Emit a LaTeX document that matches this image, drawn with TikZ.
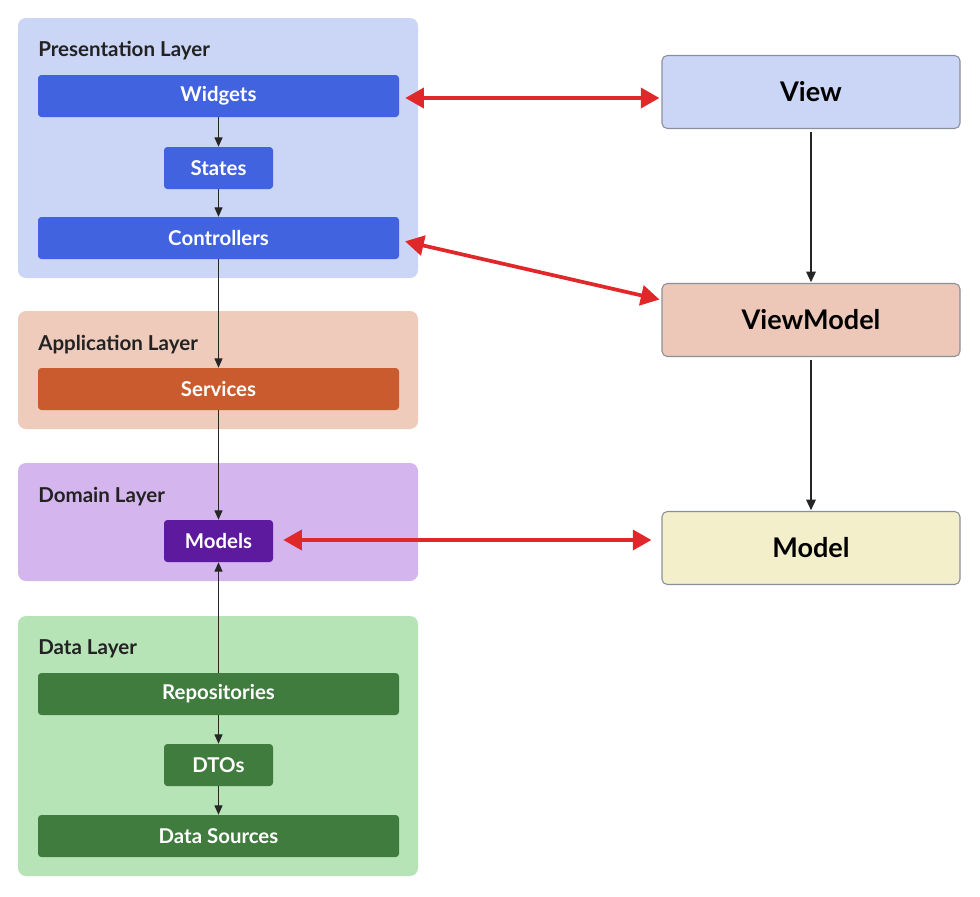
\documentclass[tikz,border=0pt]{standalone}
\usepackage{fontspec}
\setmainfont{Lato}
\usetikzlibrary{arrows.meta,calc}
\definecolor{presbg}{HTML}{CBD5F5}
\definecolor{presfg}{HTML}{4163DF}
\definecolor{appbg}{HTML}{EECBBB}
\definecolor{appfg}{HTML}{C95B2F}
\definecolor{dombg}{HTML}{D4B5EE}
\definecolor{domfg}{HTML}{5E1A9E}
\definecolor{databg}{HTML}{B7E4B6}
\definecolor{datafg}{HTML}{417C3F}
\definecolor{vmbg}{HTML}{EDC8B8}
\definecolor{modelbg}{HTML}{F3EFCB}
\definecolor{redarr}{HTML}{E0282A}
\definecolor{titlec}{HTML}{222222}
\definecolor{edgec}{HTML}{8A8F99}
\tikzset{
  layer/.style={draw=none,rounded corners=6pt,minimum width=400*0.75pt,inner sep=0pt},
  wide/.style={rounded corners=2.5pt,minimum width=361*0.75pt,minimum height=42*0.75pt,inner sep=0pt,text=white,font=\fontsize{15.3}{18}\selectfont\bfseries},
  narrow/.style={wide,minimum width=109*0.75pt},
  ltitle/.style={anchor=west,inner sep=0pt,text=titlec,font=\fontsize{15.4}{18}\selectfont\bfseries},
  mvm/.style={draw=edgec,line width=0.8pt,rounded corners=4pt,minimum width=298*0.75pt,minimum height=73*0.75pt,inner sep=0pt,font=\fontsize{20.3}{23}\selectfont\bfseries},
  thin/.style={draw=black!85,line width=0.8pt,-{Triangle[length=7pt,width=6pt]}},
  thick/.style={draw=black!85,line width=1.6pt,-{Triangle[length=8pt,width=7pt]}},
  red/.style={draw=redarr,line width=2.8pt,{Triangle[length=14pt,width=15pt]}-{Triangle[length=14pt,width=15pt]}}
}
\begin{document}
\begin{tikzpicture}[x=0.75pt,y=-0.75pt]
\useasboundingbox (0,0) rectangle (980,896);
% layers
\node[layer,fill=presbg,minimum height=260*0.75pt] (pres) at (218,148) {};
\node[layer,fill=appbg,minimum height=118*0.75pt] (app) at (218,370) {};
\node[layer,fill=dombg,minimum height=118*0.75pt] (dom) at (218,522) {};
\node[layer,fill=databg,minimum height=260*0.75pt] (data) at (218,746) {};
\node[ltitle] (pt) at (38,51) {Presentation Layer};
\node[ltitle] (at) at (38,345) {Application Layer};
\node[ltitle] (dt) at (38,497) {Domain Layer};
\node[ltitle] (dat) at (38,649) {Data Layer};
% inner boxes
\node[wide,fill=presfg] (widgets) at (218.5,96) {Widgets};
\node[narrow,fill=presfg] (states) at (218.5,168) {States};
\node[wide,fill=presfg] (controllers) at (218.5,238) {Controllers};
\node[wide,fill=appfg] (services) at (218.5,389) {Services};
\node[narrow,fill=domfg] (models) at (218.5,541) {Models};
\node[wide,fill=datafg] (repos) at (218.5,694) {Repositories};
\node[narrow,fill=datafg] (dtos) at (218.5,765) {DTOs};
\node[wide,fill=datafg] (sources) at (218.5,836) {Data Sources};
% right column
\node[mvm,fill=presbg] (view) at (811,92) {View};
\node[mvm,fill=vmbg] (viewmodel) at (811,320) {ViewModel};
\node[mvm,fill=modelbg] (model) at (811,548) {Model};
% black connectors
\draw[thin] (widgets) -- (states);
\draw[thin] (states) -- (controllers);
\draw[thin] (controllers) -- (services);
\draw[thin] (services) -- (models);
\draw[thin] (repos) -- (models);
\draw[thin] (repos) -- (dtos);
\draw[thin] (dtos) -- (sources);
\draw[thick,shorten <=2pt,shorten >=0.5pt] (view) -- (viewmodel);
\draw[thick,shorten <=2pt,shorten >=0.5pt] (viewmodel) -- (model);
% red connectors
\draw[red,shorten <=4.5pt,shorten >=1.5pt] ($(widgets.east)+(0,2)$) -- ($(view.west)+(0,6)$);
\draw[red,shorten <=4.5pt,shorten >=1.5pt] ($(controllers.east)+(0,2)$) -- ($(viewmodel.west)+(0,-20)$);
\draw[red,shorten <=7.5pt,shorten >=7.5pt] ($(models.east)+(0,-1)$) -- ($(model.west |- models.east)+(0,-1)$);
\end{tikzpicture}
\end{document}
